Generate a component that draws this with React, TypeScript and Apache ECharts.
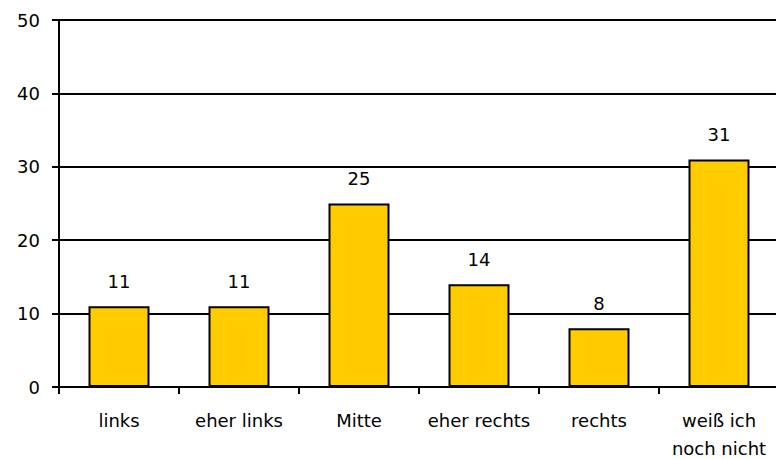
import React, { useEffect, useRef } from "react";
import * as echarts from "echarts";

const categories = ["links", "eher links", "Mitte", "eher rechts", "rechts", "weiß ich\nnoch nicht"];
const values = [11, 11, 25, 14, 8, 31];
const yTicks = { min: 0, max: 50, interval: 10 };

export default function App() {
  const ref = useRef<HTMLDivElement>(null);
  useEffect(() => {
    if (!ref.current) return;
    const chart = echarts.init(ref.current, null, { renderer: "svg" });
    const font = "'DejaVu Sans', Verdana, sans-serif";
    chart.setOption({
      animation: false,
      grid: { left: 59, right: -3, top: 20, bottom: 72, containLabel: false, outerBoundsMode: "none" },
      xAxis: {
        type: "category",
        data: categories,
        axisLine: { lineStyle: { color: "#000", width: 2 } },
        axisTick: { show: true, length: 7, lineStyle: { color: "#000", width: 2 } },
        axisLabel: { color: "#000", fontSize: 18, fontFamily: font, margin: 19, lineHeight: 28, interval: 0 },
      },
      yAxis: {
        type: "value",
        min: yTicks.min,
        max: yTicks.max,
        interval: yTicks.interval,
        axisLine: { show: true, lineStyle: { color: "#000", width: 2 } },
        axisTick: { show: true, length: 7, lineStyle: { color: "#000", width: 2 } },
        axisLabel: { color: "#000", fontSize: 18, fontFamily: font, margin: 19 },
        splitLine: { show: true, lineStyle: { color: "#000", width: 2 } },
      },
      series: [
        {
          type: "bar",
          data: values,
          barWidth: 61,
          itemStyle: { color: "#FFCC00", borderColor: "#000", borderWidth: 2 },
          label: { show: true, position: "top", distance: 16, color: "#000", fontSize: 18, fontFamily: font },
        },
      ],
    });
    return () => chart.dispose();
  }, []);
  return <div ref={ref} style={{ width: 776, height: 459, position: "absolute", left: 0, top: 0, background: "#fff" }} />;
}
